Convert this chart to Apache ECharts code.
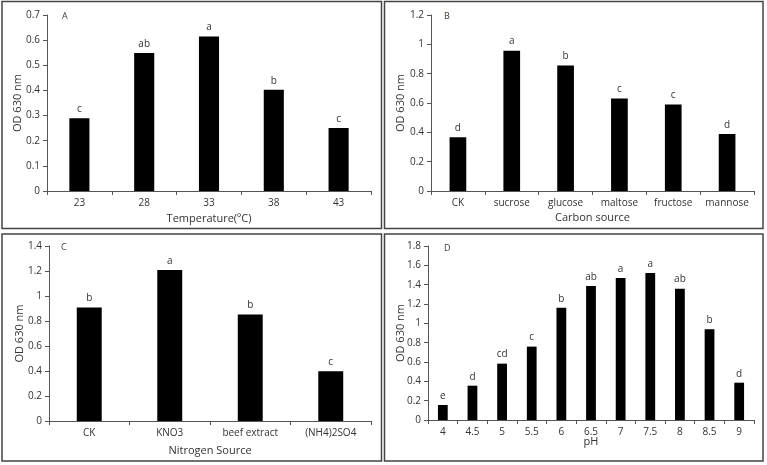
<!DOCTYPE html>
<html><head><meta charset="utf-8">
<script src="https://cdn.jsdelivr.net/npm/echarts@6/dist/echarts.min.js"></script>
<style>html,body{margin:0;padding:0;background:#fff}#c{width:767px;height:465px}</style>
</head><body><div id="c"></div>
<script>
// Panel A: Temperature
const tempCats = ['23','28','33','38','43'];
const tempVals = [0.289, 0.549, 0.614, 0.403, 0.251];
const tempSig = ['c','ab','a','b','c'];
// Panel B: Carbon source
const carbonCats = ['CK','sucrose','glucose','maltose','fructose','mannose'];
const carbonVals = [0.366, 0.957, 0.855, 0.630, 0.589, 0.389];
const carbonSig = ['d','a','b','c','c','d'];
// Panel C: Nitrogen source
const nitroCats = ['CK','KNO3','beef extract','(NH4)2SO4'];
const nitroVals = [0.908, 1.208, 0.852, 0.399];
const nitroSig = ['b','a','b','c'];
// Panel D: pH
const phCats = ['4','4.5','5','5.5','6','6.5','7','7.5','8','8.5','9'];
const phVals = [0.155, 0.355, 0.583, 0.759, 1.162, 1.386, 1.469, 1.521, 1.359, 0.938, 0.386];
const phSig = ['e','d','cd','c','b','ab','a','a','ab','b','d'];

const FONT = 'Open Sans';
const TXT = '#333';
const panels = [
  {cats: tempCats, vals: tempVals, sig: tempSig, max: 0.7, interval: 0.1, xname: 'Temperature(ºC)', grid: {left:47, top:15, width:324, height:176}, xgap: 22, ygap: 24, bw: '31%'},
  {cats: carbonCats, vals: carbonVals, sig: carbonSig, max: 1.2, interval: 0.2, xname: 'Carbon source', grid: {left:431, top:15, width:323, height:176}, xgap: 21, ygap: 25, bw: '31%'},
  {cats: nitroCats, vals: nitroVals, sig: nitroSig, max: 1.4, interval: 0.2, xname: 'Nitrogen Source', grid: {left:49, top:246, width:322, height:175}, xgap: 24, ygap: 24, bw: '31%'},
  {cats: phCats, vals: phVals, sig: phSig, max: 1.8, interval: 0.2, xname: 'pH', grid: {left:428, top:246, width:326, height:174}, xgap: 16, ygap: 22, bw: '33%'}
];
const letters = ['A','B','C','D'];
const letterPos = [[62,17],[444,17],[61,248],[444,249]];

const axisLine = {show:true, lineStyle:{color:'#555', width:1}};
const option = {
  backgroundColor:'#fff',
  animation:false,
  grid: panels.map(p => p.grid),
  xAxis: panels.map((p,i) => ({
    type:'category', gridIndex:i, data:p.cats,
    boundaryGap:true,
    axisLine: axisLine,
    axisTick:{show:true, length:4, lineStyle:{color:'#555'}},
    axisLabel:{fontFamily:FONT, fontSize:10, color:TXT, margin:7, interval:0},
    name:p.xname, nameLocation:'middle', nameGap:p.xgap, nameMoveOverlap:false,
    nameTextStyle:{fontFamily:FONT, fontSize:11, color:TXT}
  })),
  yAxis: panels.map((p,i) => ({
    type:'value', gridIndex:i, min:0, max:p.max, interval:p.interval,
    splitLine:{show:false},
    axisLine: axisLine,
    axisTick:{show:true, length:4, lineStyle:{color:'#555'}},
    axisLabel:{fontFamily:FONT, fontSize:10, color:TXT, margin:7,
      formatter: v => String(Math.round(v*10)/10)},
    name:'OD 630 nm', nameLocation:'middle', nameGap:p.ygap, nameMoveOverlap:false,
    nameTextStyle:{fontFamily:FONT, fontSize:11, color:TXT}
  })),
  series: panels.map((p,i) => ({
    type:'bar', xAxisIndex:i, yAxisIndex:i,
    data: p.vals.map((v,j) => ({value:v, label:{formatter:p.sig[j]}})),
    barWidth:p.bw,
    itemStyle:{color:'#000'},
    label:{show:true, position:'top', distance:4, fontFamily:FONT, fontSize:10, color:TXT}
  })),
  graphic: [
    {type:'rect', shape:{x:2, y:1.5, width:379.5, height:227}, style:{fill:'none', stroke:'#444', lineWidth:1.5}},
    {type:'rect', shape:{x:384.5, y:1.5, width:378.5, height:227}, style:{fill:'none', stroke:'#444', lineWidth:1.5}},
    {type:'rect', shape:{x:2, y:234, width:379.5, height:227}, style:{fill:'none', stroke:'#444', lineWidth:1.5}},
    {type:'rect', shape:{x:384.5, y:234, width:378.5, height:227}, style:{fill:'none', stroke:'#444', lineWidth:1.5}}
  ].concat(letters.map((l,i) => ({
    type:'text', left:letterPos[i][0], top:letterPos[i][1]-5,
    style:{text:l, fontFamily:FONT, fontSize:9, fill:'#4a3520'}
  })))
};
const chart = echarts.init(document.getElementById('c'), null, {renderer:'canvas'});
chart.setOption(option);
</script>
</body></html>
